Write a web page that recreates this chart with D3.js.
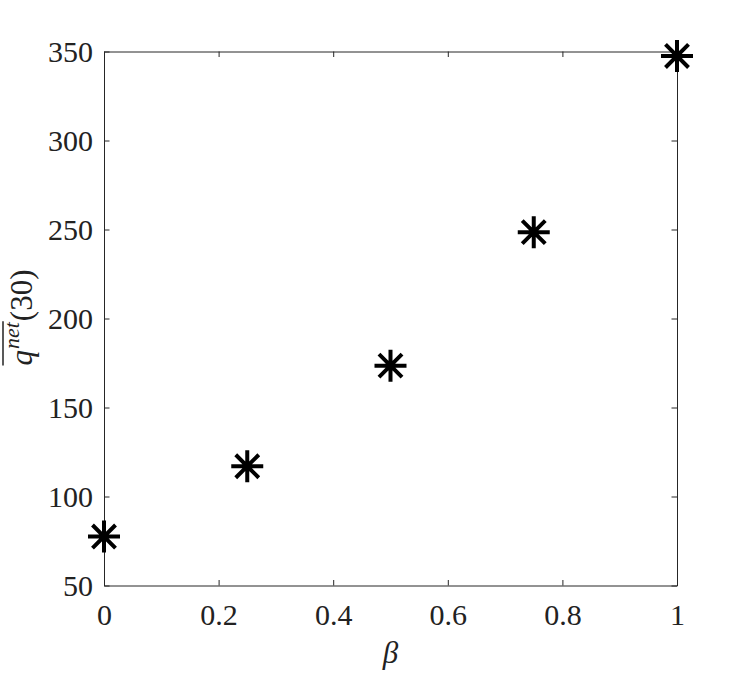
<!DOCTYPE html>
<html>
<head>
<meta charset="utf-8">
<script src="https://cdn.jsdelivr.net/npm/d3@7"></script>
<style>
  body { margin: 0; background: #fff; }
  text { font-family: "Liberation Serif", "DejaVu Serif", serif; fill: #222; }
</style>
</head>
<body>
<div id="chart"></div>
<script>
// data
var betaValues = [0, 0.25, 0.5, 0.75, 1];
var qNetValues = [77.5, 117, 173.5, 248.5, 347.5];
var xTickValues = [0, 0.2, 0.4, 0.6, 0.8, 1];
var yTickValues = [50, 100, 150, 200, 250, 300, 350];

const
  W = 747, H = 674,
  LEFT = 104, RIGHT = 677, TOP = 51.5, BOTTOM = 585.5,
  TICK = 5.5, MARK_R = 16,
  FONT = "'Liberation Serif', 'DejaVu Serif', serif";

var svg = d3.select("#chart").append("svg")
  .attr("width", W).attr("height", H);

var x = d3.scaleLinear().domain([0, 1]).range([LEFT, RIGHT]);
var y = d3.scaleLinear().domain([50, 350]).range([BOTTOM, TOP]);

// box with inward ticks on all four sides
var xAxisB = d3.axisBottom(x).tickValues(xTickValues).tickSizeInner(-TICK).tickSizeOuter(0)
  .tickPadding(18).tickFormat(d3.format("~g"));
var xAxisT = d3.axisTop(x).tickValues(xTickValues).tickSizeInner(-TICK).tickSizeOuter(0).tickFormat("");
var yAxisL = d3.axisLeft(y).tickValues(yTickValues).tickSizeInner(-TICK).tickSizeOuter(0).tickPadding(11);
var yAxisR = d3.axisRight(y).tickValues(yTickValues).tickSizeInner(-TICK).tickSizeOuter(0).tickFormat("");

function styleAxis(g) {
  g.attr("font-family", null).attr("font-size", null);
  g.select(".domain").attr("stroke", "#262626").attr("stroke-width", 1);
  g.selectAll(".tick line").attr("stroke", "#262626").attr("stroke-width", 1);
  g.selectAll(".tick text").style("font-size", "30px").attr("fill", "#222")
    .style("font-family", FONT);
}

svg.append("g").attr("transform", "translate(0," + BOTTOM + ")").call(xAxisB).call(styleAxis);
svg.append("g").attr("transform", "translate(0," + TOP + ")").call(xAxisT).call(styleAxis);
svg.append("g").attr("transform", "translate(" + LEFT + ",0)").call(yAxisL).call(styleAxis);
svg.append("g").attr("transform", "translate(" + RIGHT + ",0)").call(yAxisR).call(styleAxis);

// x label
svg.append("text")
  .attr("x", (LEFT + RIGHT) / 2).attr("y", 663)
  .attr("text-anchor", "middle")
  .style("font-size", "31px").style("font-style", "italic")
  .text("\u03B2");

// y label: overline q^net (30)
var labelPos = "translate(32," + ((TOP + BOTTOM) / 2 - 1) + ") rotate(-90)";
var yl = svg.append("text")
  .attr("transform", labelPos)
  .attr("text-anchor", "middle")
  .style("font-size", "31px");
yl.append("tspan").style("font-style", "italic").text("q");
yl.append("tspan").style("font-style", "italic").style("font-size", "22px")
  .attr("dx", 1).attr("dy", -13).text("net");
yl.append("tspan").attr("dx", 1).attr("dy", 13).text("(30)");

var node = yl.node();
var start = node.getStartPositionOfChar(0).x;
var end = node.getEndPositionOfChar(3).x;
svg.append("line")
  .attr("transform", labelPos)
  .attr("x1", start).attr("x2", end + 1)
  .attr("y1", -29).attr("y2", -29)
  .attr("stroke", "#222").attr("stroke-width", 1.5);

// asterisk markers
var a = MARK_R * 0.72;
var star = "M0," + (-MARK_R) + "V" + MARK_R +
  "M" + (-MARK_R) + ",0H" + MARK_R +
  "M" + (-a) + "," + (-a) + "L" + a + "," + a +
  "M" + (-a) + "," + a + "L" + a + "," + (-a);

svg.selectAll("path.mark")
  .data(betaValues.map(function(b, i) { return { b: b, q: qNetValues[i] }; }))
  .enter().append("path")
  .attr("class", "mark")
  .attr("transform", function(d) { return "translate(" + x(d.b) + "," + y(d.q) + ")"; })
  .attr("d", star)
  .attr("fill", "none")
  .attr("stroke", "#000")
  .attr("stroke-width", 4);
</script>
</body>
</html>
